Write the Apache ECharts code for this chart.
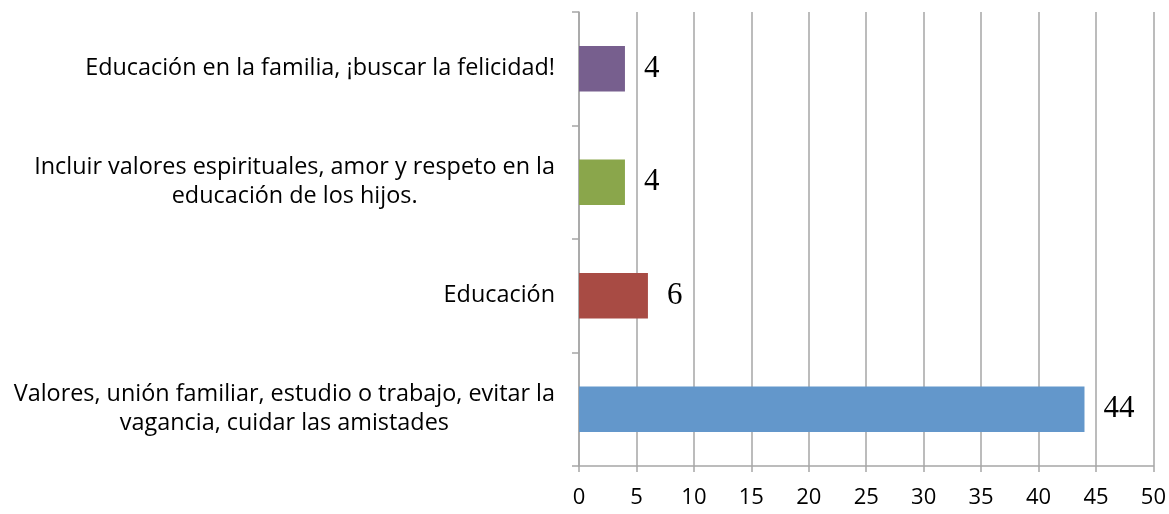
<!DOCTYPE html>
<html>
<head>
<meta charset="utf-8">
<script src="https://cdn.jsdelivr.net/npm/echarts@6/dist/echarts.min.js"></script>
<style>
  html, body { margin: 0; padding: 0; background: #fff; }
  #chart { width: 1169px; height: 514px; }
</style>
</head>
<body>
<div id="chart"></div>
<script>
// categorías de abajo hacia arriba (eje de categorías de ECharts)
const categories = [
    'Valores, unión familiar, estudio o trabajo, evitar la\nvagancia, cuidar las amistades',
    'Educación',
    'Incluir valores espirituales, amor y respeto en la\neducación de los hijos.',
    'Educación en la familia, ¡buscar la felicidad!'
];
const values = [44, 6, 4, 4];
const barColors = ['#6397CB', '#A84B44', '#8AA64B', '#775F8E'];
const xTicks = [0, 5, 10, 15, 20, 25, 30, 35, 40, 45, 50];

const chart = echarts.init(document.getElementById('chart'));
chart.setOption({
    animation: false,
    grid: { left: 579, right: 12, top: 12, bottom: 48, containLabel: false },
    xAxis: {
        type: 'value',
        min: xTicks[0],
        max: xTicks[xTicks.length - 1],
        interval: 5,
        axisLine: { show: true, lineStyle: { color: '#A6A6A6', width: 1.5 } },
        axisTick: { show: true, length: 6, lineStyle: { color: '#A6A6A6', width: 1.5 } },
        splitLine: { show: true, lineStyle: { color: '#A6A6A6', width: 1.5 } },
        axisLabel: { margin: 21, fontFamily: 'Open Sans', fontSize: 22, color: '#000' }
    },
    yAxis: {
        type: 'category',
        data: categories,
        axisLine: { show: true, lineStyle: { color: '#A6A6A6', width: 1.5 } },
        axisTick: { show: true, length: 7, inside: false, lineStyle: { color: '#A6A6A6', width: 1.5 } },
        axisLabel: {
            margin: 24,
            formatter: v => v.split('\n').map(s => '{c|' + s + '}').join('\n'),
            rich: {
                c: { align: 'center', fontFamily: 'Open Sans', fontSize: 23.4, lineHeight: 29, color: '#000' }
            }
        }
    },
    series: [{
        type: 'bar',
        barWidth: '40%',
        data: values.map((v, i) => ({ value: v, itemStyle: { color: barColors[i] } })),
        label: {
            show: true,
            position: 'right',
            distance: 19,
            fontFamily: 'Liberation Serif',
            fontSize: 31,
            color: '#000'
        }
    }]
});
</script>
</body>
</html>
